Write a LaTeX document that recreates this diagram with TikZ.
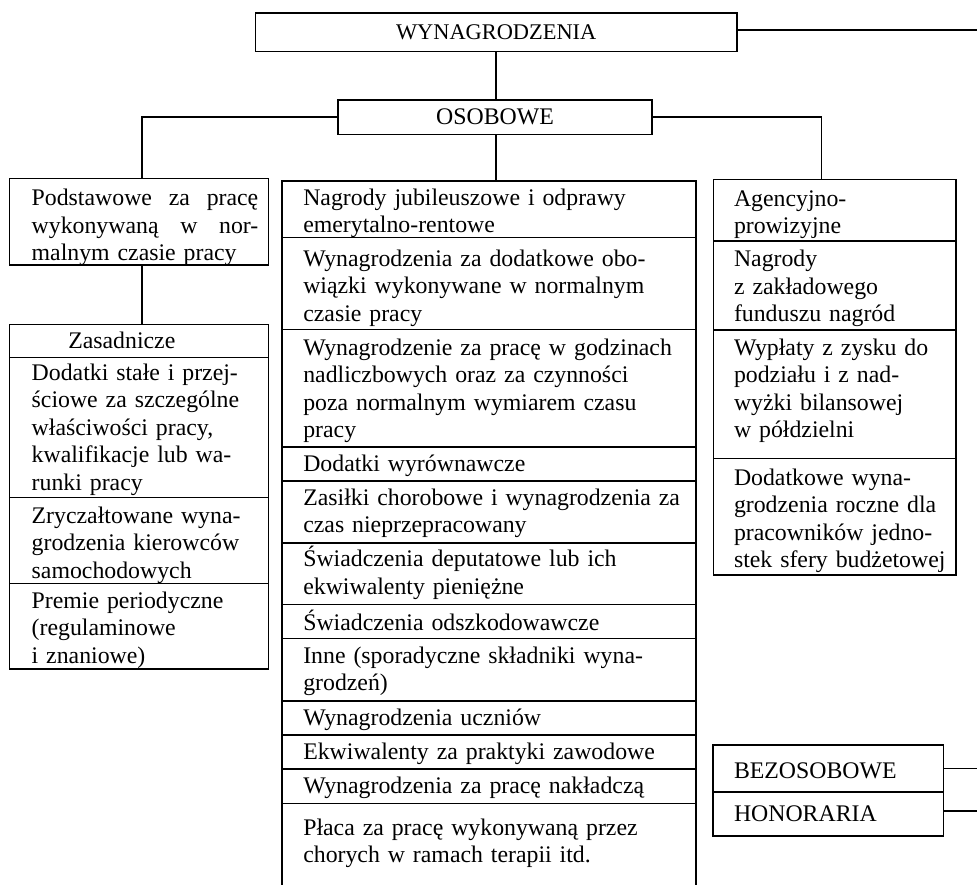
\documentclass[tikz,border=0pt]{standalone}
\usepackage{fontspec}
\setmainfont{Liberation Serif}
\begin{document}
\begin{tikzpicture}[x=1pt,y=-1pt,
  font=\fontsize{23.8}{27.6}\selectfont,
  cellbox/.style={draw, line width=1.6pt, anchor=north west, inner sep=0pt, outer sep=0pt},
  headbox/.style={draw, line width=1.6pt, inner sep=0pt, outer sep=0pt},
  txt/.style={anchor=base west, inner sep=0pt, outer sep=0pt, align=left, text width=400pt},
  conn/.style={line width=1.6pt}]
\useasboundingbox (0,0) rectangle (977,884);
\clip (0,0) rectangle (977,884);

% headers
\node[headbox, minimum width=481.2pt, minimum height=38.3pt, font=\fontsize{22.4}{26}\selectfont] (wyn) at (496.2,32.2) {WYNAGRODZENIA};
\node[headbox, minimum width=314pt, minimum height=34.3pt] (oso) at (495,117.2) {OSOBOWE};

% left column
\node[cellbox, minimum width=259pt, minimum height=86.7pt] (pod) at (9.3,178.3) {};
\node[txt, text width=226.6pt] (podt) at (31.7,205.7) {Podstawowe\hfill za\hfill pracę\\wykonywaną\hfill w\hfill nor-\hspace*{7pt}\\malnym czasie pracy};
\node[cellbox, minimum width=259pt, minimum height=33pt] (zas) at (9.3,324.3) {};
\node[txt] (zast) at (68.3,348.3) {Zasadnicze};
\node[cellbox, minimum width=259pt, minimum height=140pt] (dod) at (9.3,357.3) {};
\node[txt] (dodt) at (31.7,380) {Dodatki stałe i przej-\\ściowe za szczególne\\właściwości pracy,\\kwalifikacje lub wa-\\runki pracy};
\node[cellbox, minimum width=259pt, minimum height=86pt] (zry) at (9.3,497.3) {};
\node[txt] (zryt) at (31.7,523.3) {Zryczałtowane wyna-\\grodzenia kierowców\\samochodowych};
\node[cellbox, minimum width=259pt, minimum height=85.7pt] (pre) at (9.3,583.3) {};
\node[txt] (pret) at (31.7,608.3) {Premie periodyczne\\(regulaminowe\\i znaniowe)};

% middle column
\node[cellbox, minimum width=413.7pt, minimum height=56.6pt] (m1) at (282,180.7) {};
\node[txt] (m1t) at (303.3,205) {Nagrody jubileuszowe i odprawy\\emerytalno-rentowe};
\node[cellbox, minimum width=413.7pt, minimum height=92pt] (m2) at (282,237.3) {};
\node[txt] (m2t) at (303.3,266) {Wynagrodzenia za dodatkowe obo-\\wiązki wykonywane w normalnym\\czasie pracy};
\node[cellbox, minimum width=413.7pt, minimum height=117.4pt] (m3) at (282,329.3) {};
\node[txt] (m3t) at (303.3,355) {Wynagrodzenie za pracę w godzinach\\nadliczbowych oraz za czynności\\poza normalnym wymiarem czasu\\pracy};
\node[cellbox, minimum width=413.7pt, minimum height=34pt] (m4) at (282,446.7) {};
\node[txt] (m4t) at (303.3,471.7) {Dodatki wyrównawcze};
\node[cellbox, minimum width=413.7pt, minimum height=62pt] (m5) at (282,480.7) {};
\node[txt] (m5t) at (303.3,505) {Zasiłki chorobowe i wynagrodzenia za\\czas nieprzepracowany};
\node[cellbox, minimum width=413.7pt, minimum height=61.6pt] (m6) at (282,542.7) {};
\node[txt] (m6t) at (303.3,566.7) {Świadczenia deputatowe lub ich\\ekwiwalenty pieniężne};
\node[cellbox, minimum width=413.7pt, minimum height=34pt] (m7) at (282,604.3) {};
\node[txt] (m7t) at (303.3,630) {Świadczenia odszkodowawcze};
\node[cellbox, minimum width=413.7pt, minimum height=62.4pt] (m8) at (282,638.3) {};
\node[txt] (m8t) at (303.3,663.3) {Inne (sporadyczne składniki wyna-\\grodzeń)};
\node[cellbox, minimum width=413.7pt, minimum height=34.3pt] (m9) at (282,700.7) {};
\node[txt] (m9t) at (303.3,725) {Wynagrodzenia uczniów};
\node[cellbox, minimum width=413.7pt, minimum height=34pt] (m10) at (282,735) {};
\node[txt] (m10t) at (303.3,759.3) {Ekwiwalenty za praktyki zawodowe};
\node[cellbox, minimum width=413.7pt, minimum height=34.3pt] (m11) at (282,769) {};
\node[txt] (m11t) at (303.3,793.3) {Wynagrodzenia za pracę nakładczą};
\node[cellbox, minimum width=413.7pt, minimum height=110pt] (m12) at (282,803.3) {};
\node[txt] (m12t) at (303.3,835) {Płaca za pracę wykonywaną przez\\chorych w ramach terapii itd.};

% right column
\node[cellbox, minimum width=242.7pt, minimum height=61.4pt] (a1) at (713.3,179.3) {};
\node[txt] (a1t) at (734,206) {Agencyjno-\\prowizyjne};
\node[cellbox, minimum width=242.7pt, minimum height=89.3pt] (a2) at (713.3,240.7) {};
\node[txt] (a2t) at (734,266.7) {Nagrody\\z zakładowego\\funduszu nagród};
\node[cellbox, minimum width=242.7pt, minimum height=128.3pt] (a3) at (713.3,330) {};
\node[txt] (a3t) at (734,355) {Wypłaty z zysku do\\podziału i z nad-\\wyżki bilansowej\\w półdzielni};
\node[cellbox, minimum width=242.7pt, minimum height=116.7pt] (a4) at (713.3,458.3) {};
\node[txt] (a4t) at (734,485) {Dodatkowe wyna-\\grodzenia roczne dla\\pracowników jedno-\\stek sfery budżetowej};

% bezosobowe / honoraria
\node[cellbox, minimum width=230.6pt, minimum height=47pt] (bez) at (712.7,745) {};
\node[txt] (bezt) at (734,778.3) {BEZOSOBOWE};
\node[cellbox, minimum width=230.6pt, minimum height=44pt] (hon) at (712.7,792) {};
\node[txt] (hont) at (734,821.7) {HONORARIA};

% connectors
\coordinate (wynend) at (977,30);
\coordinate (bezend) at (977,768.5);
\coordinate (honend) at (977,811);
\draw[conn] (wyn.east |- wynend) -- (wynend);
\draw[conn] (wyn.south) -- (wyn.south |- oso.north);
\draw[conn] (wyn.south |- oso.south) -- (wyn.south |- m1.north);
\draw[conn] (oso.west) -| ([xshift=3pt]pod.north);
\draw[conn] (oso.east) -| ([xshift=-13pt]a1.north);
\draw[conn] ([xshift=3pt]pod.south) -- ([xshift=3pt]zas.north);
\draw[conn] (bez.east) -- (bezend);
\draw[conn] (hon.east |- honend) -- (honend);
\end{tikzpicture}
\end{document}
